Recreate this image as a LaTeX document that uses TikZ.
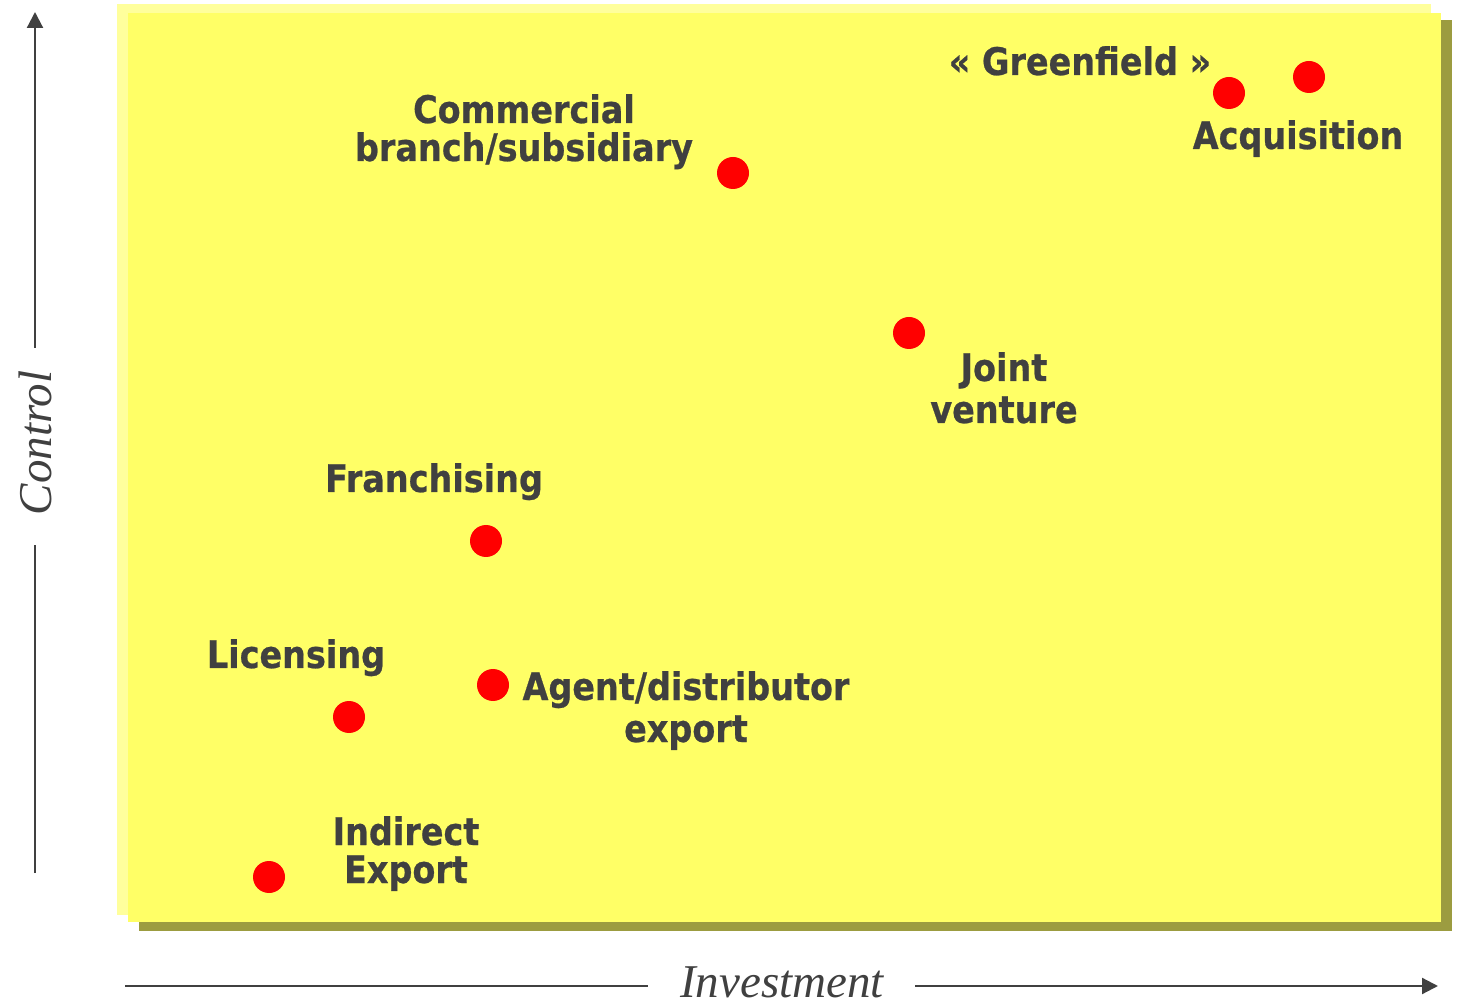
\documentclass[tikz,border=0pt]{standalone}
\usepackage{fontspec}
\newfontfamily\lblfont{DejaVu Sans Bold}[FakeStretch=0.88, FakeBold=0.6]
\newfontfamily\axfont{Liberation Serif Italic}
\usetikzlibrary{arrows.meta}
\definecolor{txt}{HTML}{404040}
\definecolor{boxfill}{HTML}{FFFF66}
\definecolor{boxpale}{HTML}{FFFF9C}
\definecolor{boxshadow}{HTML}{9C9C40}
\definecolor{dotred}{HTML}{FF0000}
\tikzset{
  lbl/.style={anchor=base, inner sep=0pt, text=txt, font=\lblfont\fontsize{19pt}{20pt}\selectfont},
  axlbl/.style={inner sep=0pt, text=txt, font=\axfont\fontsize{23.5pt}{26pt}\selectfont},
  dot/.style={circle, fill=dotred, draw=none, minimum size=16pt, inner sep=0pt},
  axis/.style={draw=txt, line width=1.1pt},
  axarrow/.style={axis, -{Triangle[length=8pt,width=8pt]}}
}
\begin{document}
\begin{tikzpicture}[x=0.5pt,y=-0.5pt]
\useasboundingbox (0,0) rectangle (1463,1005);
% box layers
\fill[boxpale] (117,4) rectangle (1431,915);
\fill[boxshadow] (139,20) rectangle (1452,931);
\fill[boxfill] (128,13) rectangle (1441,922);
% axes
\coordinate (v0) at (35,873);
\coordinate (v1) at (35,348);
\coordinate (v2) at (35,545);
\coordinate (vtop) at (35,12);
\node[axlbl, rotate=90] (ctrl) at (35,443) {Control};
\draw[axis] (v0) -- (v2);
\draw[axarrow] (v1) -- (vtop);
\coordinate (h0) at (125,986);
\coordinate (h1) at (648,986);
\coordinate (h2) at (915,986);
\coordinate (hend) at (1438,986);
\node[axlbl, anchor=base] (inv) at (782,997) {Investment};
\draw[axis] (h0) -- (h1);
\draw[axarrow] (h2) -- (hend);
% dots
\node[dot] (green) at (1229,93) {};
\node[dot] (acq) at (1309,77) {};
\node[dot] (comm) at (733,173) {};
\node[dot] (jv) at (909,333) {};
\node[dot] (fran) at (486,541) {};
\node[dot] (lic) at (349,717) {};
\node[dot] (agent) at (493,685) {};
\node[dot] (ind) at (269,877) {};
% labels
\node[lbl] (tgreen) at (1080,75) {« Greenfield »};
\node[lbl] (tacq) at (1298,149) {Acquisition};
\node[lbl] (tcomm1) at (524,123) {Commercial};
\node[lbl] (tcomm2) at (524,161) {branch/subsidiary};
\node[lbl] (tjv1) at (1004,381) {Joint};
\node[lbl] (tjv2) at (1004,423) {venture};
\node[lbl] (tfran) at (434,492) {Franchising};
\node[lbl] (tlic) at (296,668) {Licensing};
\node[lbl] (tag1) at (686,700) {Agent/distributor};
\node[lbl] (tag2) at (686,742) {export};
\node[lbl] (tind1) at (406,845) {Indirect};
\node[lbl] (tind2) at (406,883) {Export};
\end{tikzpicture}
\end{document}
